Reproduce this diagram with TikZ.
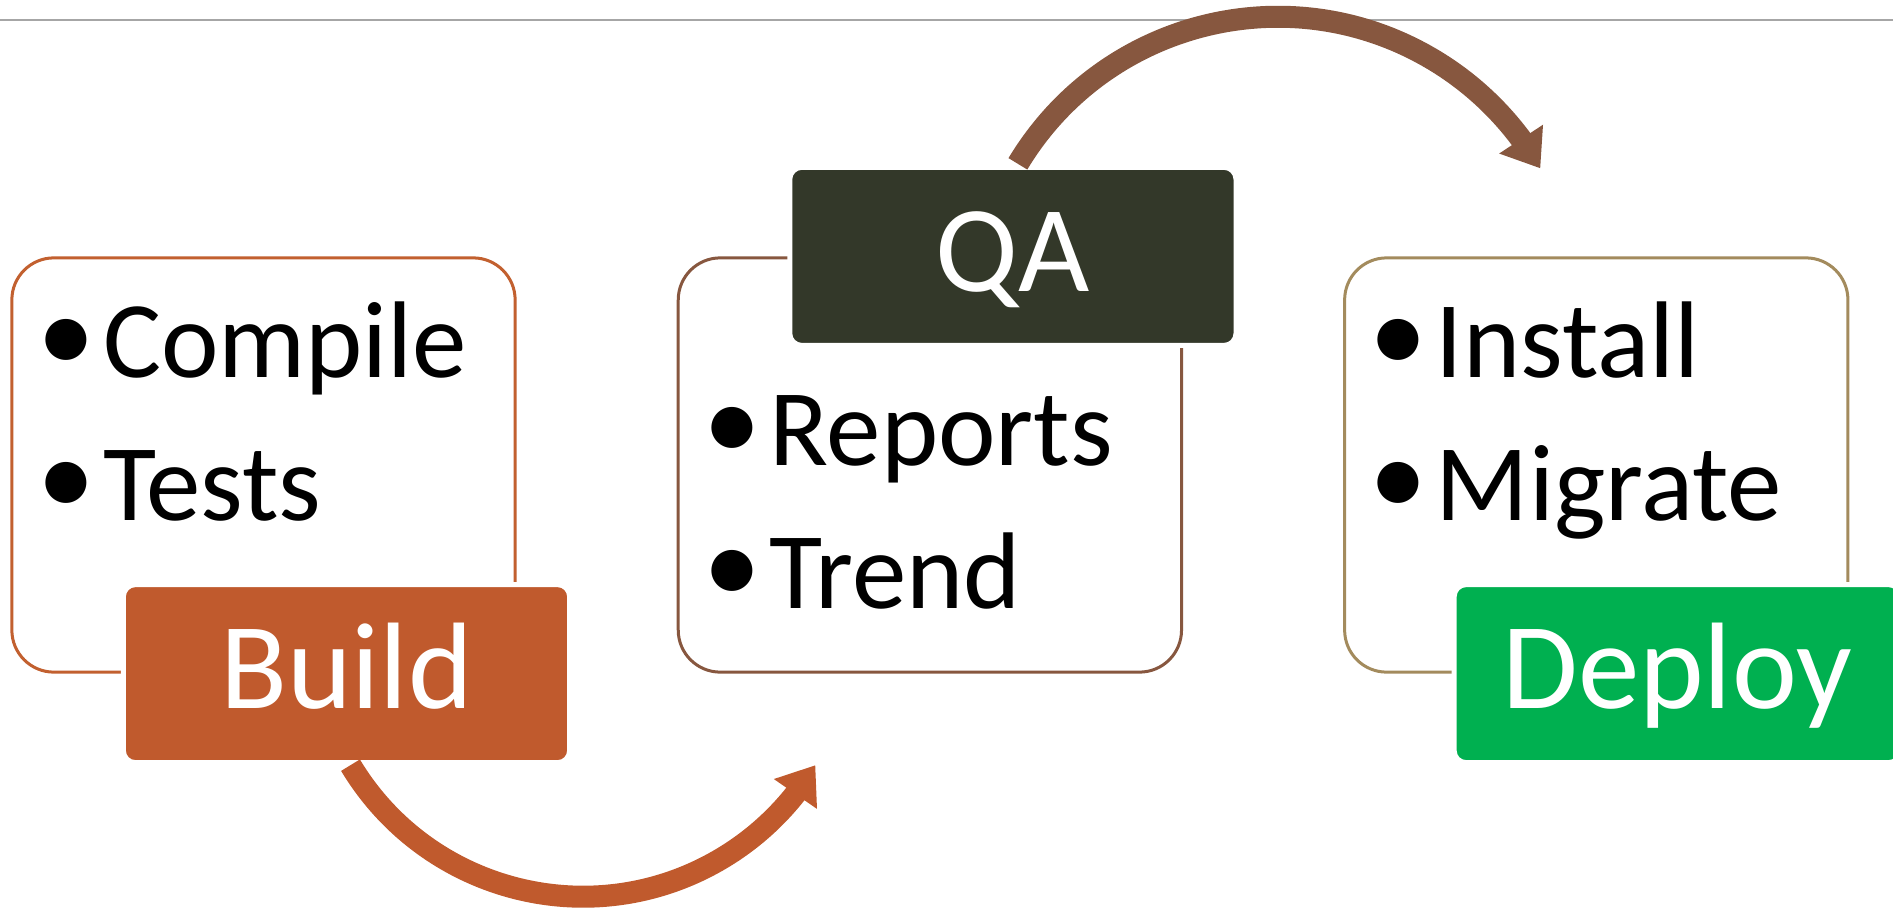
\documentclass[tikz,border=0pt]{standalone}
\usepackage{fontspec}
\setmainfont{Carlito}
\usetikzlibrary{arrows.meta, positioning, calc, bending}

\definecolor{buildorange}{HTML}{C05A2D}
\definecolor{buildline}{HTML}{C2602F}
\definecolor{qadark}{HTML}{333829}
\definecolor{qaline}{HTML}{87573F}
\definecolor{deploygreen}{HTML}{00B050}
\definecolor{deployline}{HTML}{A38B5D}
\definecolor{rulegray}{HTML}{A6A6A6}

\newcommand{\bul}{\makebox[0.74cm][c]{\fontsize{33pt}{33pt}\selectfont\raisebox{0.05cm}{•}}}

\begin{document}
\begin{tikzpicture}[
  x=0.01cm, y=0.01cm,
  listbox/.style = {draw, line width=0.03cm, rounded corners=0.42cm, minimum width=5.03cm, minimum height=4.14cm, fill=white},
  tagbox/.style = {draw=white, line width=0.05cm, rounded corners=0.12cm, minimum width=4.46cm, minimum height=1.78cm,
                   inner sep=0pt, text=white, font=\fontsize{35pt}{35pt}\selectfont, text height=0.9cm, text depth=0.2cm},
  item/.style = {anchor=base west, inner sep=0pt, font=\fontsize{31pt}{31pt}\selectfont},
  arrow/.style = {line width=0.22cm, -{Triangle[width=0.5cm, length=0.35cm]}},
  node distance=1.6cm
]
\useasboundingbox (0,0) rectangle (1893,-909);

% Top rule
\coordinate (ruleL) at (0,-20);
\coordinate (ruleR) at (1893,-20);
\draw[rulegray, line width=0.02cm] (ruleL) -- (ruleR);

% Build Block
\node[listbox, draw=buildline] (buildlist) at (263.5,-465) {};
\node[item] (compile) at ($(buildlist.north west)+(18,-121)$) {\bul Compile};
\node[item] (tests) at ($(compile.base west)+(0,-143)$) {\bul Tests};
\node[tagbox, fill=buildorange] (buildtag) at ($(buildlist.south)+(83,0)$) {Build};

% QA Block
\node[listbox, draw=qaline, right=1.6cm of buildlist] (qalist) {};
\node[item] (reports) at ($(qalist.north west)+(18,-209)$) {\bul Reports};
\node[item] (trend) at ($(reports.base west)+(0,-143)$) {\bul Trend};
\node[tagbox, fill=qadark] (qatag) at ($(qalist.north)+(83,0)$) {QA};

% Deploy Block
\node[listbox, draw=deployline, right=1.6cm of qalist] (deploylist) {};
\node[item] (install) at ($(deploylist.north west)+(18,-121)$) {\bul Install};
\node[item] (migrate) at ($(install.base west)+(0,-143)$) {\bul Migrate};
\node[tagbox, fill=deploygreen] (deploytag) at ($(deploylist.south)+(81,0)$) {Deploy};

% Curved arrows: Build -> QA (under), QA -> Deploy (over)
\coordinate (understart) at ($(buildtag.south)+(4,0)$);
\draw[arrow, buildorange] (understart) arc[start angle=211, end angle=329, radius=2.71cm];

\coordinate (overstart) at ($(qatag.north)+(5,1)$);
\draw[arrow, qaline] (overstart) arc[start angle=149, end angle=30, radius=3.03cm];

\end{tikzpicture}
\end{document}
